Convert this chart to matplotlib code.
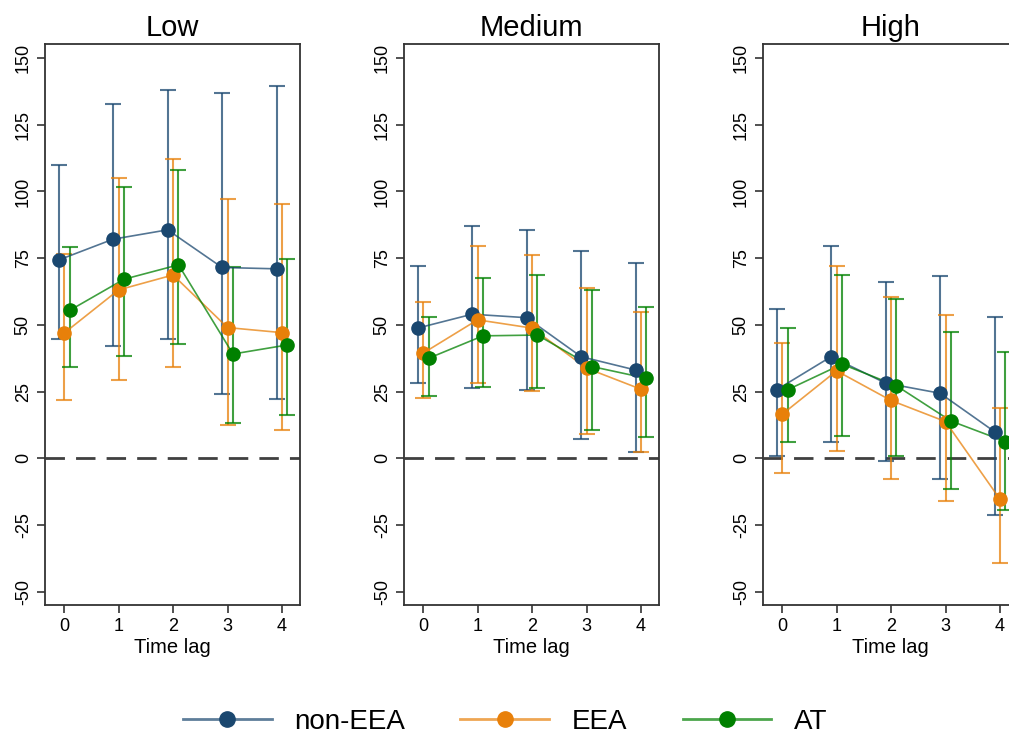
import numpy as np
import matplotlib.pyplot as plt

plt.rcParams['font.family'] = ['Liberation Sans', 'DejaVu Sans']
plt.rcParams['axes.unicode_minus'] = False

lags = [0, 1, 2, 3, 4]
groups = ['Low', 'Medium', 'High']
series = ['non-EEA', 'EEA', 'AT']
colors = {'non-EEA': '#1a476f', 'EEA': '#e8800a', 'AT': '#008000'}
offsets = {'non-EEA': -0.1, 'EEA': 0.0, 'AT': 0.1}

# point estimates
est = {
    'Low': {
        'non-EEA': [74.3, 82.1, 85.6, 71.5, 71.0],
        'EEA': [46.9, 63.1, 68.7, 49.0, 47.1],
        'AT': [55.4, 67.1, 72.5, 39.1, 42.5],
    },
    'Medium': {
        'non-EEA': [48.8, 54.0, 52.7, 38.1, 33.1],
        'EEA': [39.4, 51.9, 48.8, 33.8, 25.9],
        'AT': [37.5, 45.9, 46.2, 34.4, 30.0],
    },
    'High': {
        'non-EEA': [25.7, 38.1, 28.2, 24.4, 10.0],
        'EEA': [16.5, 32.8, 21.7, 13.8, -15.3],
        'AT': [25.7, 35.3, 27.2, 14.0, 6.3],
    },
}
# upper bounds of the confidence intervals
upper = {
    'Low': {
        'non-EEA': [109.9, 132.8, 137.8, 136.8, 139.5],
        'EEA': [76.5, 104.9, 112.1, 97.1, 95.3],
        'AT': [79.3, 101.8, 108.1, 71.5, 74.7],
    },
    'Medium': {
        'non-EEA': [72.1, 87.2, 85.6, 77.7, 73.1],
        'EEA': [58.4, 79.6, 76.2, 63.7, 55.0],
        'AT': [53.1, 67.7, 68.7, 63.1, 56.6],
    },
    'High': {
        'non-EEA': [55.9, 79.7, 66.0, 68.4, 53.1],
        'EEA': [43.1, 72.2, 60.6, 53.7, 18.8],
        'AT': [49.0, 68.7, 59.6, 47.5, 40.0],
    },
}
# lower bounds
lower = {
    'Low': {
        'non-EEA': [44.6, 42.2, 44.8, 24.0, 22.2],
        'EEA': [21.9, 29.4, 34.4, 12.5, 10.7],
        'AT': [34.4, 38.4, 42.8, 13.2, 16.3],
    },
    'Medium': {
        'non-EEA': [28.4, 26.5, 25.7, 7.2, 2.5],
        'EEA': [22.5, 28.4, 25.3, 9.0, 2.5],
        'AT': [23.5, 26.9, 26.5, 10.7, 7.9],
    },
    'High': {
        'non-EEA': [0.9, 6.3, -0.8, -7.8, -21.2],
        'EEA': [-5.3, 2.9, -7.7, -15.9, -39.3],
        'AT': [6.1, 8.4, 0.9, -11.5, -19.3],
    },
}

W, H = 1009, 738
fig = plt.figure(figsize=(W / 100, H / 100), dpi=100)
lefts = [45, 404, 763]

for g, lx in zip(groups, lefts):
    ax = fig.add_axes([lx / W, (H - 605) / H, 255 / W, 561 / H])
    ax.axhline(0, color='#404040', lw=2, dashes=(7, 4), zorder=1)
    for s in series:
        x = np.array(lags) + offsets[s]
        y = np.array(est[g][s])
        yerr = [y - np.array(lower[g][s]), np.array(upper[g][s]) - y]
        c = colors[s]
        ax.errorbar(x, y, yerr=yerr, fmt='none', ecolor=c, alpha=0.75,
                    elinewidth=1.5, capsize=6, capthick=1.5, zorder=2)
        ax.plot(x, y, color=c, lw=1.2, alpha=0.75, zorder=3)
        ax.plot(x, y, 'o', color=c, ms=9.5, mec=c, zorder=4)
    ax.set_xlim(-0.35, 4.33)
    ax.set_ylim(-54.9, 155.2)
    ax.set_xticks(lags)
    ax.set_yticks(np.arange(-50, 151, 25))
    ax.tick_params(axis='both', direction='out', length=6, width=1.2,
                   color='#333333', labelsize=13)
    ax.tick_params(axis='y', labelrotation=90)
    for lab in ax.get_yticklabels():
        lab.set_va('center')
    for sp in ax.spines.values():
        sp.set_color('#333333')
        sp.set_linewidth(1.3)
    ax.set_xlabel('Time lag', fontsize=14.5, labelpad=2)
    ax.set_title(g, fontsize=21, pad=6)

# legend keys: faded line with a solid marker on top
handles = []
for s in series:
    ln = plt.Line2D([], [], color=colors[s], lw=2, alpha=0.7)
    mk = plt.Line2D([], [], ls='none', marker='o', ms=11,
                    mfc=colors[s], mec=colors[s])
    handles.append((ln, mk))
fig.legend(handles, series, loc='center',
           bbox_to_anchor=(505 / W, 1 - 722 / H),
           ncol=3, frameon=False, fontsize=20, handlelength=3.2,
           columnspacing=2.0, handletextpad=0.8)

fig.savefig('out.png', dpi=100)
